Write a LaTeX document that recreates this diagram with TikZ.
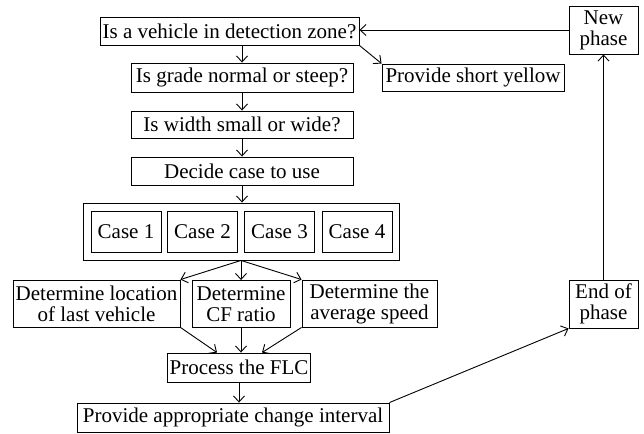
\documentclass[tikz,border=0pt]{standalone}
\usepackage{fontspec}
\setmainfont{Liberation Serif}
\usetikzlibrary{arrows.meta}

\begin{document}
\begin{tikzpicture}[x=1bp, y=-1bp, line width=0.9bp, >={Straight Barb[length=6bp,width=11bp]}]
    \tikzstyle{every node}=[inner sep=2bp,
                            % The border:
                            draw=black,
                            % The text:
                            font=\fontsize{21bp}{21bp}\selectfont, align=center
                            ]
    \tikzstyle{askbox}=[minimum width=222bp, minimum height=28bp]
    \tikzstyle{casebox}=[minimum width=70bp, minimum height=41bp]
    \tikzstyle{tallbox}=[minimum height=47bp]
    \tikzstyle{phasebox}=[minimum width=69bp, minimum height=48bp]
    \useasboundingbox (0,0) rectangle (644,434);
    % the questions
    \node[minimum width=259bp, minimum height=28bp] (vehicle) at (229.5,31) {Is a vehicle in detection zone?};
    \node[askbox, minimum height=29bp] (grade) at (242,77.5) {Is grade normal or steep?};
    \node[askbox, minimum height=27bp] (wide) at (242,124.5) {Is width small or wide?};
    \node[askbox] (decide) at (242,171) {Decide case to use};
    \node[minimum width=182bp, minimum height=27bp] (yellow) at (473,77.5) {Provide short yellow};
    % the cases
    \node[minimum width=316bp, minimum height=57bp] (cases) at (241,231.5) {};
    \foreach \i/\x in {1/126, 2/202.5, 3/279.5, 4/357}
        \node[casebox] (case\i) at (\x,231.5) {Case \i};
    % the inputs
    \node[tallbox, minimum width=167bp] (location) at (96.5,303.5) {Determine location\\of last vehicle};
    \node[tallbox, minimum width=98bp] (ratio) at (241,304) {Determine\\CF ratio};
    \node[tallbox, minimum width=135bp] (speed) at (369.5,303.5) {Determine the\\average speed};
    \node[minimum width=142bp, minimum height=29bp] (flc) at (239,367.5) {Process the FLC};
    \node[minimum width=312bp, minimum height=29bp] (interval) at (233,417.5) {Provide appropriate change interval};
    % the phases
    \node[phasebox] (newphase) at (603.5,30) {New\\phase};
    \node[phasebox] (endphase) at (603.5,304) {End of\\phase};

    \draw[->] (vehicle.south -| grade.north) -- (grade.north);
    \draw[->] (grade.south) -- (wide.north);
    \draw[->] (wide.south) -- (decide.north);
    \draw[->] (decide.south) -- (decide.south |- cases.north);
    \draw[->] (vehicle.south east) -- (yellow.north west);
    \draw[->] (cases.south) -- (location.north east);
    \draw[->] (cases.south) -- (ratio.north);
    \draw[->] (cases.south) -- (speed.north west);
    \draw[->] (location.south east) -- ([xshift=-22bp]flc.north);
    \draw[->] (ratio.south) -- (ratio.south |- flc.north);
    \draw[->] (speed.south west) -- ([xshift=23bp]flc.north);
    \draw[->] (flc.south) -- (flc.south |- interval.north);
    \draw[->] (interval.north east) -- (endphase.south west);
    \draw[->] (endphase.north) -- (newphase.south);
    \draw[->] (newphase.west) -- (newphase.west -| vehicle.east);
\end{tikzpicture}
\end{document}
